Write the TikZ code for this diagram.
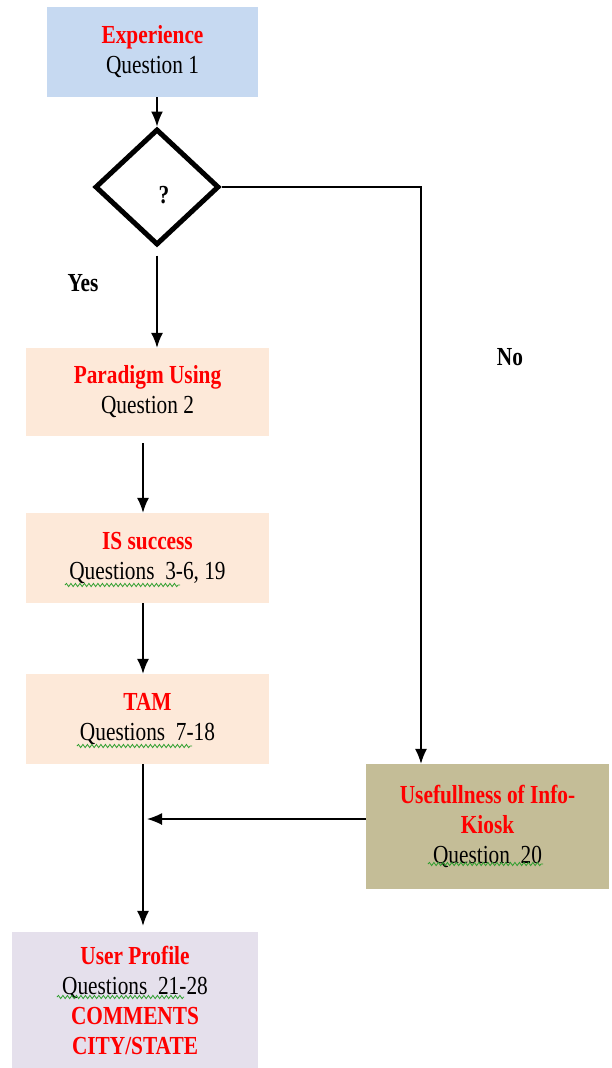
\documentclass[tikz,border=0pt]{standalone}
\usepackage{fontspec}
\setmainfont{Liberation Serif}[FakeStretch=0.82]
\usetikzlibrary{arrows.meta,shapes.geometric,decorations.pathmorphing}
\definecolor{expblue}{HTML}{C6D9F1}
\definecolor{peach}{HTML}{FDE9D9}
\definecolor{lilac}{HTML}{E5E0EC}
\definecolor{khaki}{HTML}{C4BD97}
\definecolor{redtxt}{HTML}{FF0000}
\definecolor{squig}{HTML}{2E9E2E}
\newcommand{\rt}[1]{\textcolor{redtxt}{\textbf{#1}}}
\begin{document}
\begin{tikzpicture}[x=1pt,y=-1pt,
  box/.style={rectangle, inner sep=0pt, align=center, font=\fontsize{26}{30}\selectfont},
  arr/.style={line width=1.5pt, -{Latex[length=15pt,width=12pt]}},
  lbl/.style={font=\fontsize{26}{30}\selectfont\bfseries, inner sep=0pt},
  wavy/.style={squig, line width=0.8pt, decorate, decoration={snake, amplitude=1.6pt, segment length=4.5pt}}]
\useasboundingbox (0,0) rectangle (612,1068);
% boxes
\node[box, fill=expblue, minimum width=211pt, minimum height=90pt] (exp) at (152.5,52) {\rt{Experience}\\Question 1};
\node[diamond, draw, line width=5pt, minimum width=124pt, minimum height=116pt, inner sep=0pt] (dia) at (157,187) {};
\node[lbl] (q) at (164,195) {?};
\node[box, fill=peach, minimum width=243pt, minimum height=88pt] (par) at (147.5,392) {\rt{Paradigm Using}\\Question 2};
\node[box, fill=peach, minimum width=243pt, minimum height=90pt] (is) at (147.5,558) {\rt{IS success}\\Questions~ 3-6, 19};
\node[box, fill=peach, minimum width=243pt, minimum height=90pt] (tam) at (147.5,719) {\rt{TAM}\\Questions~ 7-18};
\node[box, fill=khaki, minimum width=243pt, minimum height=125pt] (use) at (487.5,826.5) {\rt{Usefullness of Info-}\\\rt{Kiosk}\\Question~ 20};
\node[box, fill=lilac, minimum width=246pt, minimum height=136pt] (up) at (135,1000) {\rt{User Profile}\\Questions~ 21-28\\\rt{COMMENTS}\\\rt{CITY/STATE}};
% labels
\node[lbl] (yes) at (83,283) {Yes};
\node[lbl] (no) at (510,357) {No};
% connector helpers
\coordinate (colx) at (143,0);
\coordinate (nox) at (421,0);
% connectors
\draw[arr] (exp.south -| dia.north) -- (dia.north);
\draw[arr, shorten <=8pt] (dia.south) -- (dia.south |- par.north);
\draw[arr, shorten <=7pt] (par.south -| colx) -- (is.north -| colx);
\draw[arr] (is.south -| colx) -- (tam.north -| colx);
\draw[arr, shorten >=6pt] (tam.south -| colx) -- (up.north -| colx);
\draw[arr, line width=1.3pt] (dia.east) -- (dia.east -| nox) -- (use.north -| nox);
\draw[arr, shorten >=4pt] ([yshift=7.5pt]use.west) -- ([yshift=7.5pt]use.west -| colx);
% spell-check squiggles
\draw[wavy] (65,585) -- (180,585);
\draw[wavy] (77,746) -- (192,746);
\draw[wavy] (428,864) -- (543,864);
\draw[wavy] (57,997) -- (184,997);
\end{tikzpicture}
\end{document}
